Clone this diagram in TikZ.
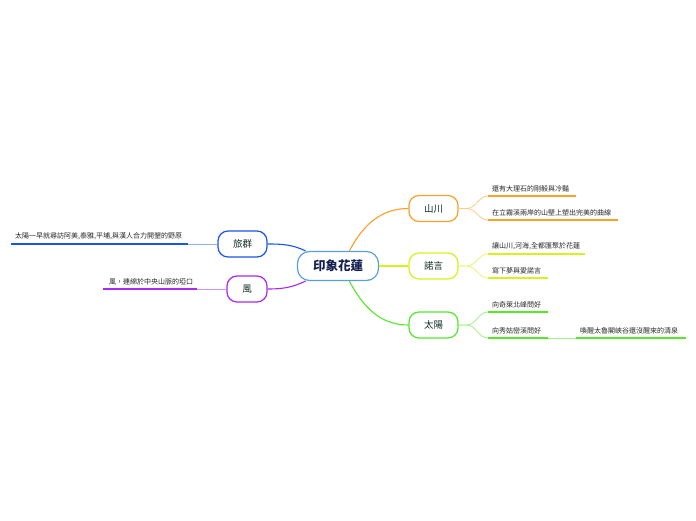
\documentclass[tikz,border=0pt]{standalone}
\usepackage{fontspec}
\setmainfont{Noto Sans CJK TC}
\begin{document}
\begin{tikzpicture}[x=1pt,y=-1pt,
  every node/.style={font=\fontsize{7}{8}\selectfont},
  branchbox/.style={draw=#1, line width=1.2pt, rounded corners=10pt, fill=white,
    minimum width=49pt, minimum height=26pt, inner sep=0pt, text=mytext,
    font=\fontsize{9.5}{11}\selectfont},
  leaf/.style={inner xsep=4pt, inner ysep=3.5pt, anchor=south west, text=leaftext},
  uline/.style={line width=1.5pt, #1},
  conn/.style={line width=1.1pt, #1},
  thin/.style={line width=0.8pt, #1}
]
\definecolor{mytext}{RGB}{15,45,35}
\definecolor{leaftext}{RGB}{40,40,40}
\definecolor{cOr}{RGB}{248,160,40}
\definecolor{cYe}{RGB}{214,242,30}
\definecolor{cGr}{RGB}{85,232,40}
\definecolor{cBl}{RGB}{25,85,230}
\definecolor{cPu}{RGB}{170,40,240}
\definecolor{cCe}{RGB}{90,160,215}
\definecolor{cCt}{RGB}{20,30,80}

\fill[white] (0,0) rectangle (696,520);

% central
\node[draw=cCe, line width=1.2pt, rounded corners=12pt, fill=white,
  minimum width=81pt, minimum height=29pt, text=cCt,
  font=\fontsize{12.5}{14}\selectfont\bfseries] (c) at (338,266) {印象花蓮};

% branches
\node[branchbox=cOr] (sc) at (433.5,208.5) {山川};
\node[branchbox=cYe] (ny) at (433.5,266) {諾言};
\node[branchbox=cGr] (ty) at (433.5,325) {太陽};
\node[branchbox=cBl] (lq) at (242.5,244) {旅群};
\node[branchbox=cPu, minimum width=40pt] (fe) at (247,289) {風};

\draw[conn=cOr] (c.53) to[out=62,in=180] (sc.west);
\draw[conn=cYe] (c.east) -- (ny.west);
\draw[conn=cGr] (c.-53) to[out=-62,in=180] (ty.west);
\draw[conn=cBl] (lq.east) to[out=0,in=155] (c.155);
\draw[conn=cPu] (fe.east) to[out=0,in=205] (c.205);

% leaves of 山川
\node[leaf, minimum width=88pt, text width=80pt] (s1) at (488,196) {還有大理石的剛毅與冷豔};
\node[leaf, minimum width=130pt, text width=122pt] (s2) at (488,220) {在立霧溪兩岸的山壁上塑出完美的曲線};
\draw[uline=cOr] (s1.south west) -- (s1.south east);
\draw[uline=cOr] (s2.south west) -- (s2.south east);
\draw[thin=cOr!55] (sc.east) -- ++(8,0) to[out=0,in=180] (s1.south west);
\draw[thin=cOr!55] (sc.east) -- ++(8,0) to[out=0,in=180] (s2.south west);

% leaves of 諾言
\node[leaf, minimum width=97pt, text width=89pt] (n1) at (488,254) {讓山川,河海,全都匯聚於花蓮};
\node[leaf, minimum width=60pt, text width=52pt] (n2) at (488,278) {寫下夢與愛諾言};
\draw[uline=cYe] (n1.south west) -- (n1.south east);
\draw[uline=cYe] (n2.south west) -- (n2.south east);
\draw[thin=cYe!60] (ny.east) -- ++(8,0) to[out=0,in=180] (n1.south west);
\draw[thin=cYe!60] (ny.east) -- ++(8,0) to[out=0,in=180] (n2.south west);

% leaves of 太陽
\node[leaf, minimum width=60pt, text width=52pt] (t1) at (488,312) {向奇萊北峰問好};
\node[leaf, minimum width=60pt, text width=52pt] (t2) at (488,338) {向秀姑巒溪問好};
\node[leaf, minimum width=110pt, text width=102pt] (t3) at (576,338) {喚醒太魯閣峽谷還沒醒來的清泉};
\draw[uline=cGr] (t1.south west) -- (t1.south east);
\draw[uline=cGr] (t2.south west) -- (t2.south east);
\draw[uline=cGr] (t3.south west) -- (t3.south east);
\draw[thin=cGr!55] (ty.east) -- ++(8,0) to[out=0,in=180] (t1.south west);
\draw[thin=cGr!55] (ty.east) -- ++(8,0) to[out=0,in=180] (t2.south west);
\draw[thin=cGr!55] (t2.south east) -- (t3.south west);

% leaves of 旅群 and 風
\node[leaf, minimum width=177pt, text width=169pt] (l1) at (11,244) {太陽一早就尋訪阿美,泰雅,平埔,與漢人合力開墾的野原};
\draw[uline=cBl] (l1.south west) -- (l1.south east);
\draw[thin=cBl!45] (lq.west) -- (l1.south east);

\node[leaf, minimum width=94pt, text width=86pt, align=right] (f1) at (103,289) {風，連綿於中央山脈的埡口};
\draw[uline=cPu] (f1.south west) -- (f1.south east);
\draw[thin=cPu!50] (fe.west) -- (f1.south east);
\end{tikzpicture}
\end{document}
